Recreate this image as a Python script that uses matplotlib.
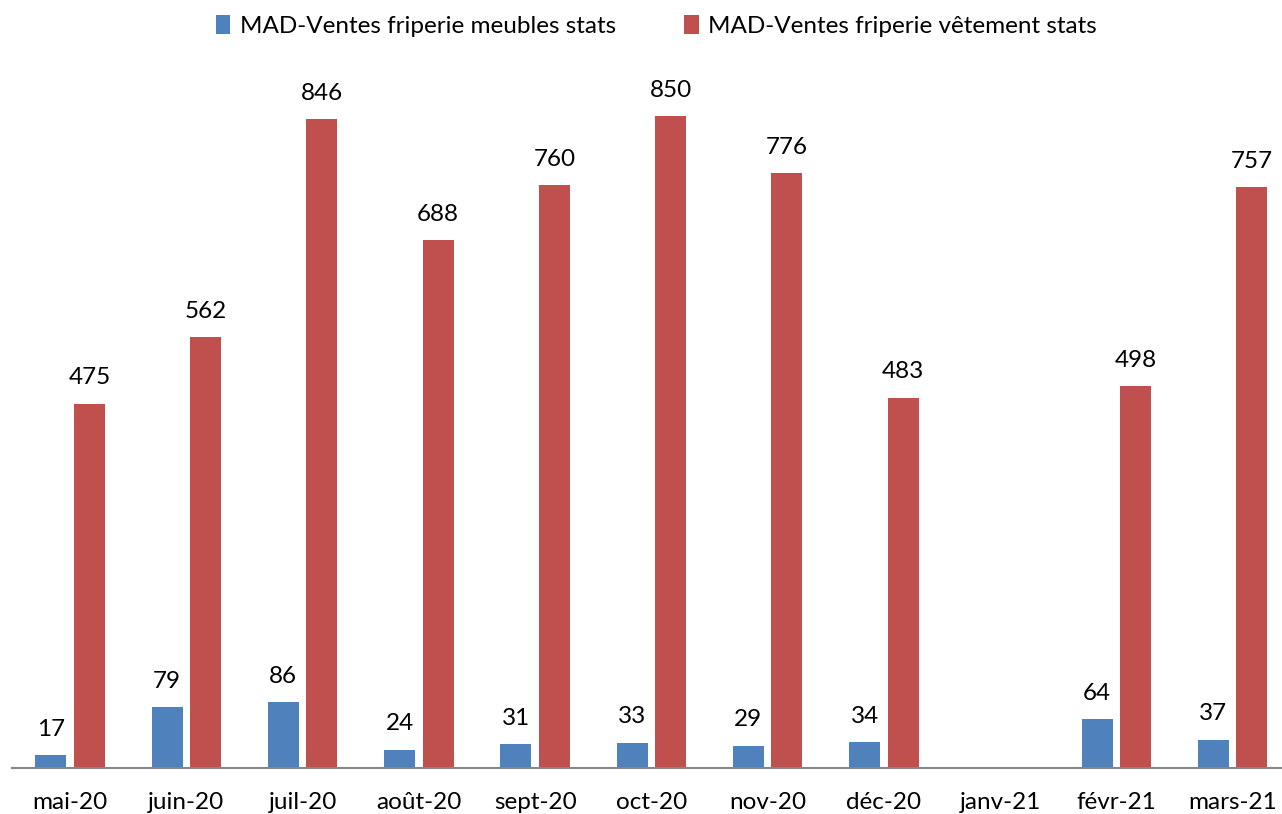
import numpy as np
import matplotlib.pyplot as plt

mois = ["mai-20", "juin-20", "juil-20", "août-20", "sept-20", "oct-20",
        "nov-20", "déc-20", "janv-21", "févr-21", "mars-21"]
meubles = [17, 79, 86, 24, 31, 33, 29, 34, None, 64, 37]
vetements = [475, 562, 846, 688, 760, 850, 776, 483, None, 498, 757]

plt.rcParams['font.family'] = ['Lato', 'DejaVu Sans']

fig = plt.figure(figsize=(12.82, 8.14), dpi=100)
ax = fig.add_axes([12 / 1282, 46 / 814, 1270 / 1282, 690 / 814])

x = np.arange(len(mois))
largeur = 0.267
ecart = 0.166
m = np.array([np.nan if v is None else v for v in meubles], dtype=float)
v = np.array([np.nan if v is None else v for v in vetements], dtype=float)

b1 = ax.bar(x - ecart, m, largeur, color="#4F81BD",
            label="MAD-Ventes friperie meubles stats")
b2 = ax.bar(x + ecart, v, largeur, color="#C0504D",
            label="MAD-Ventes friperie vêtement stats")

for barres, vals in ((b1, m), (b2, v)):
    for rect, val in zip(barres, vals):
        if np.isnan(val):
            continue
        ax.annotate(f"{int(val)}", (rect.get_x() + rect.get_width() / 2, val),
                    xytext=(0, 11), textcoords="offset points",
                    ha="center", va="bottom", fontsize=17.5)

ax.set_xlim(-0.5, -0.5 + 1270 / 116.25)
ax.set_ylim(0, 690 / 0.767)
ax.set_xticks(x)
ax.set_xticklabels(mois, fontsize=17.5)
ax.tick_params(axis="x", length=0, pad=17)
ax.set_yticks([])
for cote in ("top", "right", "left"):
    ax.spines[cote].set_visible(False)
ax.spines["bottom"].set_color("#868686")
ax.spines["bottom"].set_linewidth(1.5)

fig.legend(loc="upper center", bbox_to_anchor=(0.512, 1.008), ncol=2,
           frameon=False, fontsize=17.5, handlelength=0.6, handleheight=0.8,
           handletextpad=0.4, columnspacing=2.8)

fig.savefig("out.png", dpi=100)
